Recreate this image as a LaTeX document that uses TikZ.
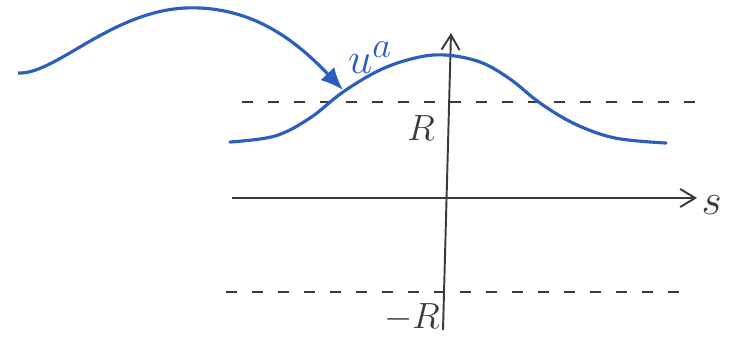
\documentclass[tikz,border=0pt]{standalone}
\usepackage{tikz}
\usetikzlibrary{arrows.meta,positioning,calc}
\definecolor{Pen}{HTML}{2C5EBE}
\definecolor{Ink}{HTML}{3A3A3A}
\tikzset{
  axis/.style={-{Straight Barb[length=3mm,width=3.6mm]},line width=1.1pt,color=Ink},
  bound/.style={dash pattern=on 2.2mm off 3mm,line width=1.3pt,color=Ink},
  bump/.style={line width=1.8pt,color=Pen,line cap=round},
  pointer/.style={-{Latex[length=4.5mm,width=3.8mm]},line width=1.8pt,color=Pen},
  lbl/.style={font=\fontsize{26}{30}\selectfont,text=Ink,inner sep=1pt}
}
\begin{document}
\begin{tikzpicture}[x=0.02cm,y=-0.02cm]
  \useasboundingbox (0,0) rectangle (743,338);
  % axes
  \coordinate (sl) at (232,198);
  \coordinate (sr) at (697,198);
  \coordinate (vb) at (443,330);
  \coordinate (vt) at (451,33);
  \draw[axis] (sl) -- (sr);
  \draw[axis] (vb) -- (vt);
  \node[lbl,font=\fontsize{32}{36}\selectfont,right=0.5mm of sr,yshift=-1.5mm] (s) {$s$};
  % the bounds R and -R
  \coordinate (pl) at (242,102);
  \coordinate (pr) at (700,102);
  \coordinate (ml) at (226,292);
  \coordinate (mr) at (690,292);
  \draw[bound] (pl) -- (pr);
  \draw[bound] (ml) -- (mr);
  \node[lbl,font=\fontsize{22}{26}\selectfont] (R) at (421,128) {$R$};
  \node[lbl,font=\fontsize{22}{26}\selectfont] (mR) at (412,318) {$-R$};
  % the bump u^a
  \draw[bump] plot[smooth,tension=0.6] coordinates
    {(230,142) (275,136) (310,118) (343,92) (380,70) (415,58) (445,55) (480,62) (510,79) (540,103) (575,124) (615,138) (666,143)};
  \coordinate (hit) at (343,90);
  \node[lbl,text=Pen,font=\fontsize{30}{34}\selectfont] (ua) at (370,58) {$u^a$};
  \coordinate (tail) at (18,73);
  \draw[pointer] (tail) .. controls (55,75) and (110,12) .. (185,8)
    .. controls (255,5) and (300,45) .. (hit);
\end{tikzpicture}
\end{document}
